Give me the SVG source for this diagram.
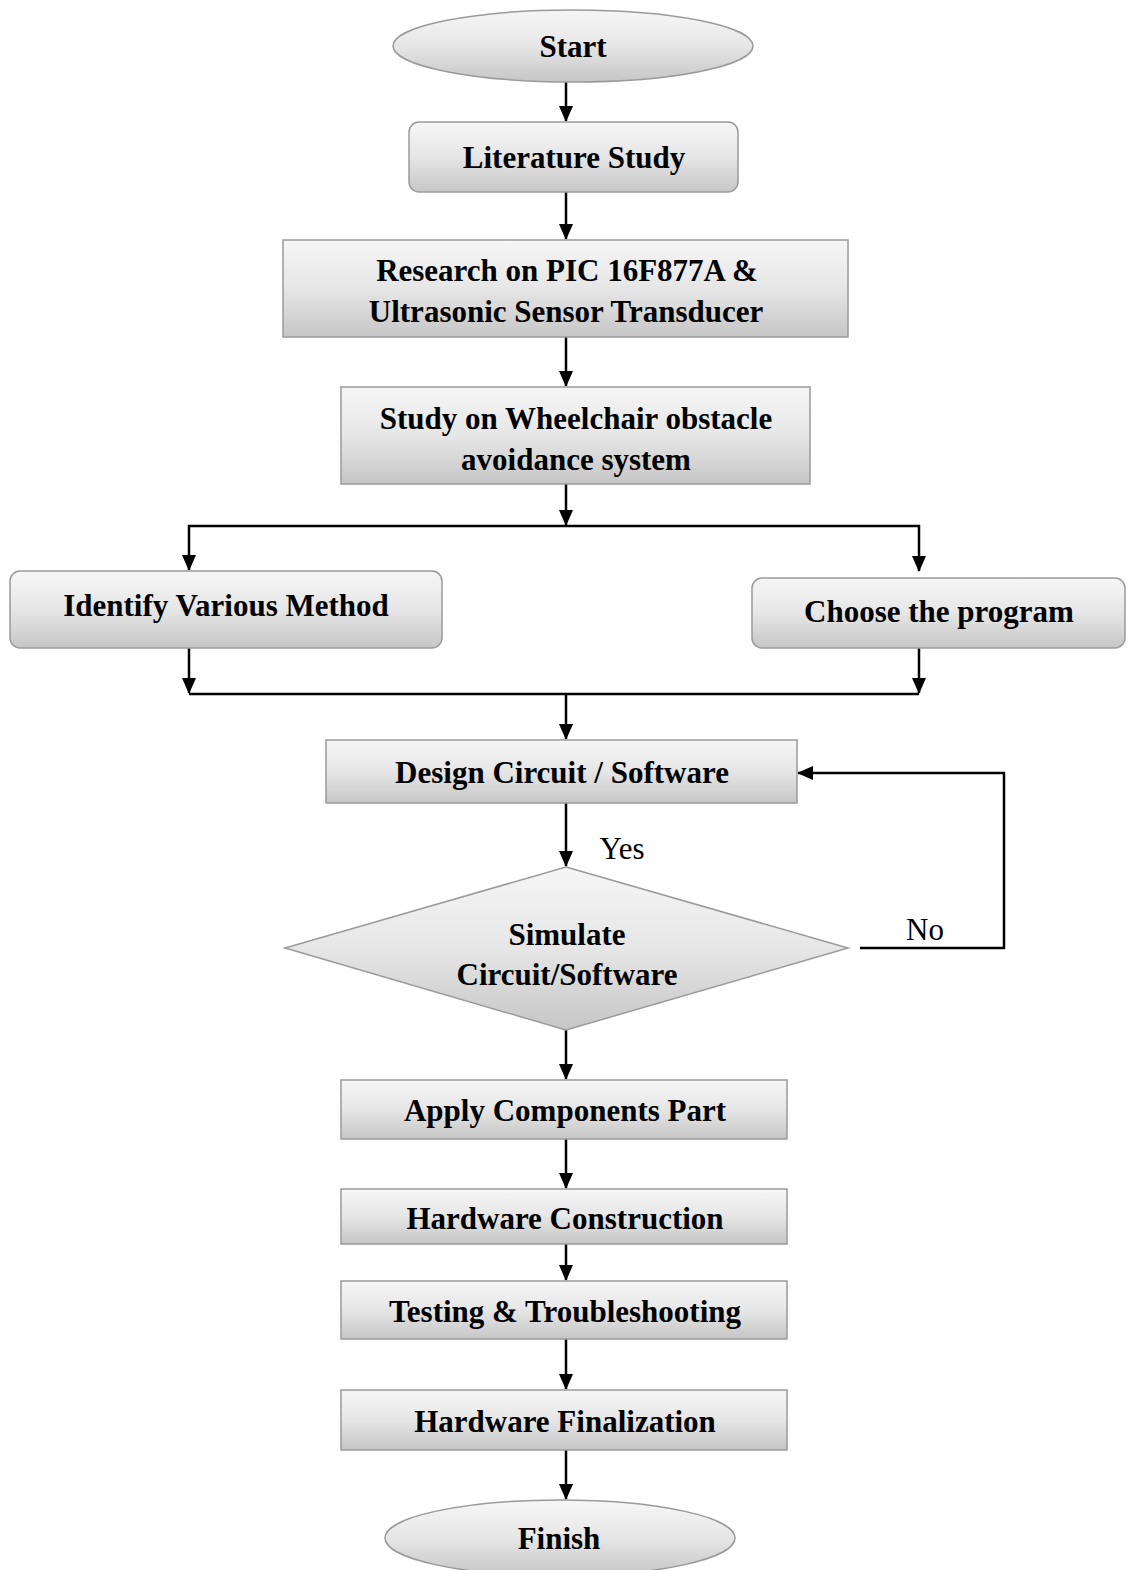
<svg xmlns="http://www.w3.org/2000/svg" width="1131" height="1570" viewBox="0 0 1131 1570">
<defs>
<linearGradient id="g" x1="0" y1="0" x2="0" y2="1">
<stop offset="0" stop-color="#f6f6f6"/>
<stop offset="0.5" stop-color="#e6e6e6"/>
<stop offset="1" stop-color="#c6c6c6"/>
</linearGradient>
<marker id="ah" markerWidth="16" markerHeight="14" refX="15" refY="7" orient="auto" markerUnits="userSpaceOnUse">
<path d="M0,0 L16,7 L0,14 z" fill="#000"/>
</marker>
</defs>
<style>
.n{fill:url(#g);stroke:#9a9a9a;stroke-width:1.5}
.t{font-family:"Liberation Serif","Times New Roman",serif;font-weight:bold;font-size:31px;fill:#000;text-anchor:middle;dominant-baseline:central}
.l{font-family:"Liberation Serif","Times New Roman",serif;font-size:31px;fill:#000;text-anchor:middle;dominant-baseline:central}
.c{fill:none;stroke:#000;stroke-width:2.5}
</style>
<rect width="1131" height="1570" fill="#fff"/>

<g id="connectors">
<line class="c" x1="566" y1="82" x2="566" y2="121" marker-end="url(#ah)"/>
<line class="c" x1="566" y1="192" x2="566" y2="239" marker-end="url(#ah)"/>
<line class="c" x1="566" y1="337" x2="566" y2="386" marker-end="url(#ah)"/>
<line class="c" x1="566" y1="484" x2="566" y2="525" marker-end="url(#ah)"/>
<polyline class="c" points="566,526 189,526 189,570" marker-end="url(#ah)"/>
<polyline class="c" points="566,526 919,526 919,571" marker-end="url(#ah)"/>
<line class="c" x1="189" y1="648" x2="189" y2="693" marker-end="url(#ah)"/>
<line class="c" x1="919" y1="648" x2="919" y2="693" marker-end="url(#ah)"/>
<line class="c" x1="189" y1="694" x2="919" y2="694"/>
<line class="c" x1="566" y1="694" x2="566" y2="739" marker-end="url(#ah)"/>
<line class="c" x1="566" y1="803" x2="566" y2="866" marker-end="url(#ah)"/>
<polyline class="c" points="860,948 1004,948 1004,773 798,773" marker-end="url(#ah)"/>
<line class="c" x1="566" y1="1030" x2="566" y2="1079" marker-end="url(#ah)"/>
<line class="c" x1="566" y1="1139" x2="566" y2="1188" marker-end="url(#ah)"/>
<line class="c" x1="566" y1="1244" x2="566" y2="1280" marker-end="url(#ah)"/>
<line class="c" x1="566" y1="1339" x2="566" y2="1389" marker-end="url(#ah)"/>
<line class="c" x1="566" y1="1450" x2="566" y2="1499" marker-end="url(#ah)"/>
<text class="l" x="622" y="848">Yes</text>
<text class="l" x="925" y="929">No</text>
</g>

<g id="start">
<ellipse class="n" cx="573" cy="46" rx="180" ry="36"/>
<text class="t" x="573" y="46">Start</text>
</g>
<g id="literature">
<rect class="n" x="409" y="122" width="329" height="70" rx="10"/>
<text class="t" x="574" y="157">Literature Study</text>
</g>
<g id="research">
<rect class="n" x="283" y="240" width="565" height="97"/>
<text class="t" x="567" y="270">Research on PIC 16F877A &amp;</text>
<text class="t" x="566" y="311">Ultrasonic Sensor Transducer</text>
</g>
<g id="study">
<rect class="n" x="341" y="387" width="469" height="97"/>
<text class="t" x="576" y="418">Study on Wheelchair obstacle</text>
<text class="t" x="576" y="459">avoidance system</text>
</g>
<g id="identify">
<rect class="n" x="10" y="571" width="432" height="77" rx="10"/>
<text class="t" x="226" y="605">Identify Various Method</text>
</g>
<g id="choose">
<rect class="n" x="752" y="578" width="373" height="70" rx="10"/>
<text class="t" x="939" y="611">Choose the program</text>
</g>
<g id="design">
<rect class="n" x="326" y="740" width="471" height="63"/>
<text class="t" x="562" y="772">Design Circuit / Software</text>
</g>
<g id="simulate">
<polygon class="n" points="566,867 848,948 566,1030 285,948"/>
<text class="t" x="567" y="934">Simulate</text>
<text class="t" x="567" y="974">Circuit/Software</text>
</g>
<g id="apply">
<rect class="n" x="341" y="1080" width="446" height="59"/>
<text class="t" x="565" y="1110">Apply Components Part</text>
</g>
<g id="construction">
<rect class="n" x="341" y="1189" width="446" height="55"/>
<text class="t" x="565" y="1218">Hardware Construction</text>
</g>
<g id="testing">
<rect class="n" x="341" y="1281" width="446" height="58"/>
<text class="t" x="565" y="1311">Testing &amp; Troubleshooting</text>
</g>
<g id="finalization">
<rect class="n" x="341" y="1390" width="446" height="60"/>
<text class="t" x="565" y="1421">Hardware Finalization</text>
</g>
<g id="finish">
<ellipse class="n" cx="560" cy="1538" rx="175" ry="38"/>
<text class="t" x="559" y="1538">Finish</text>
</g>
</svg>
